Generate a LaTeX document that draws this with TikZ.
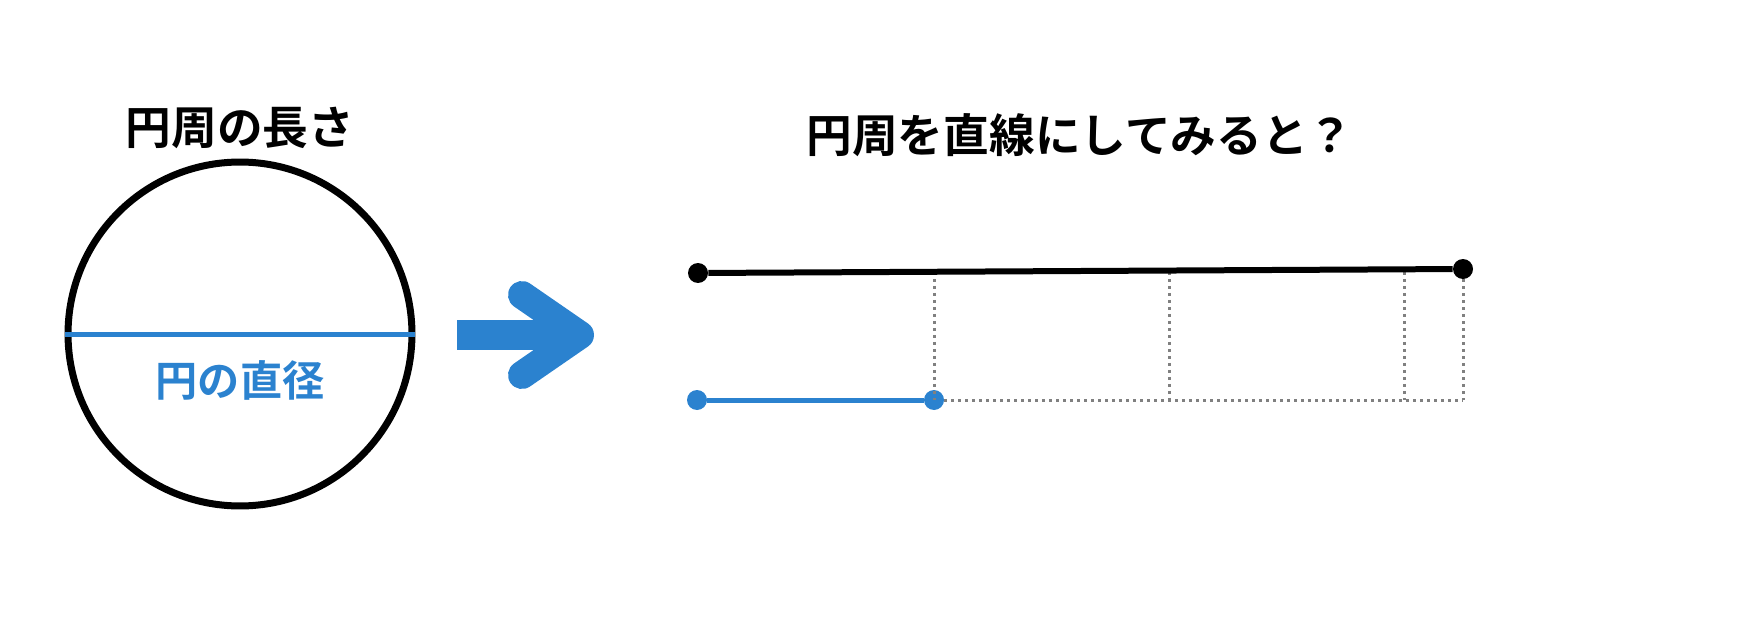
\documentclass[tikz,border=0pt]{standalone}
\usepackage{fontspec}
\newfontfamily\jpfont{Noto Sans CJK JP Bold}
\definecolor{diablue}{HTML}{2B82CF}
\begin{document}
\begin{tikzpicture}[x=0.02cm,y=-0.02cm]
	\tikzstyle{title}=[text=black,font=\jpfont\fontsize{26}{30}\selectfont]
	\tikzstyle{dotnode}=[circle,inner sep=0pt,minimum size=0.4cm]
	\tikzstyle{guide}=[gray,line width=0.06cm,dash pattern=on 0.06cm off 0.08cm]
	\useasboundingbox (0,0) rectangle (1748,635);
	% left: circle with diameter
	\node(t1)[title] at (240,128) {円周の長さ};
	\node(c)[circle,draw=black,line width=0.14cm,minimum size=6.88cm,inner sep=0pt] at (240,334) {};
	\draw[diablue,line width=0.1cm](c.west)--(c.east);
	\node(d)[text=diablue,font=\jpfont\fontsize{24}{28}\selectfont] at (240,380) {円の直径};
	% arrow
	\fill[diablue](457,320) rectangle (560,350);
	\coordinate(a1) at (522,295);
	\coordinate(a2) at (580,335);
	\coordinate(a3) at (522,375);
	\draw[diablue,line width=0.56cm,line cap=round,line join=round](a1)--(a2)--(a3);
	% right: circumference as a straight line
	\node(t2)[title] at (1080,135) {円周を直線にしてみると？};
	\node(p1)[dotnode,fill=black] at (698,273) {};
	\node(p2)[dotnode,fill=black] at (1463,269) {};
	\node(q1)[dotnode,fill=diablue] at (697,400) {};
	\node(q2)[dotnode,fill=diablue] at (934,400) {};
	\coordinate(e) at (1463,400);
	\foreach \x in {934,1169,1404}
		\draw[guide](\x,272)--(\x,400);
	\draw[guide](p2)--(e);
	\draw[guide](q2)--(e);
	\draw[black,line width=0.12cm](p1)--(p2);
	\draw[diablue,line width=0.1cm](q1)--(q2);
\end{tikzpicture}
\end{document}
